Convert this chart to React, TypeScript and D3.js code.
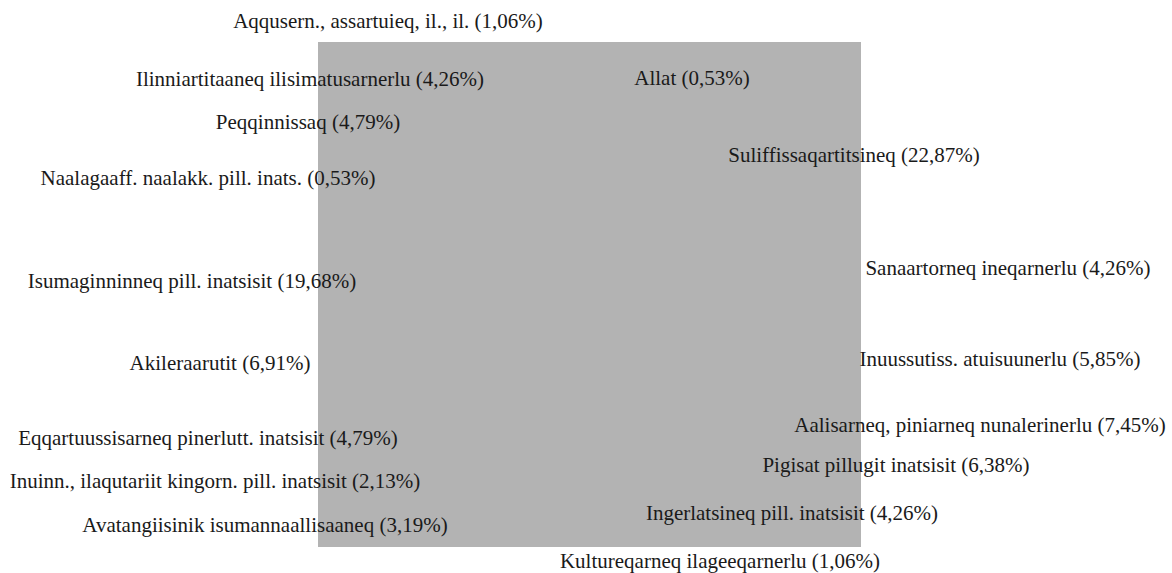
import { useEffect, useRef } from "react";
import * as d3 from "d3";

// Slice names, clockwise from the top
const categories: string[] = [
  "Allat",
  "Suliffissaqartitsineq",
  "Sanaartorneq ineqarnerlu",
  "Inuussutiss. atuisuunerlu",
  "Aalisarneq, piniarneq nunalerinerlu",
  "Pigisat pillugit inatsisit",
  "Ingerlatsineq pill. inatsisit",
  "Kultureqarneq ilageeqarnerlu",
  "Avatangiisinik isumannaallisaaneq",
  "Inuinn., ilaqutariit kingorn. pill. inatsisit",
  "Eqqartuussisarneq pinerlutt. inatsisit",
  "Akileraarutit",
  "Isumaginninneq pill. inatsisit",
  "Naalagaaff. naalakk. pill. inats.",
  "Peqqinnissaq",
  "Ilinniartitaaneq ilisimatusarnerlu",
  "Aqqusern., assartuieq, il., il.",
];

// Share of each slice, percent
const shares: number[] = [
  0.53, 22.87, 4.26, 5.85, 7.45, 6.38, 4.26, 1.06, 3.19, 2.13, 4.79, 6.91,
  19.68, 0.53, 4.79, 4.26, 1.06,
];

// Where the label of each slice sits (text centre x, baseline y)
const labelAnchors: [number, number][] = [
  [692, 85],
  [854, 162],
  [1008, 275],
  [1000, 366],
  [980, 432],
  [896, 472],
  [792, 520],
  [720, 568],
  [265, 532],
  [215, 488],
  [208, 445],
  [220, 370],
  [192, 288],
  [208, 185],
  [308, 129],
  [310, 86],
  [388, 28],
];

const W = 1172;
const H = 573;
const plot = { x: 318, y: 42, w: 543, h: 505 };

const fmt = (v: number) => v.toFixed(2).replace(".", ",");

export default function App() {
  const svgRef = useRef<SVGSVGElement | null>(null);

  useEffect(() => {
    if (!svgRef.current) return;
    const svg = d3.select(svgRef.current);
    svg.selectAll("*").remove();

    const rows = categories.map((name, i) => ({ name, value: shares[i], i }));
    const pie = d3
      .pie<{ name: string; value: number; i: number }>()
      .value((d) => d.value)
      .sort(null);
    const arcs = pie(rows);

    // plot area (the pie did not draw, only its grey box)
    svg
      .append("rect")
      .attr("x", plot.x)
      .attr("y", plot.y)
      .attr("width", plot.w)
      .attr("height", plot.h)
      .attr("fill", "#b3b3b3");

    svg
      .append("g")
      .selectAll("text")
      .data(arcs)
      .enter()
      .append("text")
      .attr("x", (d) => labelAnchors[d.data.i][0])
      .attr("y", (d) => labelAnchors[d.data.i][1])
      .attr("text-anchor", "middle")
      .attr("font-family", "Liberation Serif")
      .attr("font-size", 21)
      .attr("fill", "#1a1a1a")
      .text((d) => `${d.data.name} (${fmt(d.data.value)}%)`);
  }, []);

  return (
    <div style={{ position: "absolute", left: 0, top: 0, fontFamily: "Liberation Serif" }}>
      <svg ref={svgRef} width={W} height={H} style={{ display: "block" }}></svg>
    </div>
  );
}
